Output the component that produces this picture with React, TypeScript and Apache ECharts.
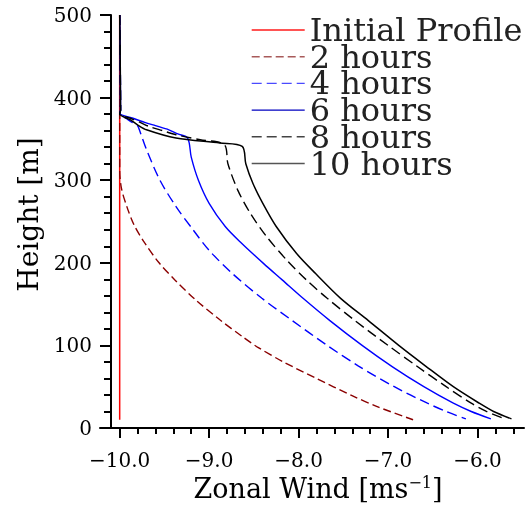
import React, { useEffect, useRef } from "react";
import * as echarts from "echarts";

const FONT = "DejaVu Serif";

const seriesNames = ["Initial Profile", "2 hours", "4 hours", "6 hours", "8 hours", "10 hours"];

const initHeights = [10, 500];
const initWinds = [-10, -10];

const h2Heights = [500, 385, 330, 312, 290, 268, 246, 224, 200, 179, 155, 131, 110, 98, 80, 60, 40, 25, 10];
const h2Winds = [-10, -10, -10, -10, -9.98, -9.92, -9.84, -9.72, -9.56, -9.38, -9.15, -8.88, -8.62, -8.46, -8.17, -7.8, -7.42, -7.1, -6.72];

const h4Heights = [500, 385, 380, 375, 370, 366, 361, 337, 300, 268, 240, 215, 187, 157, 130, 100, 75, 50, 30, 20, 11];
const h4Winds = [-10, -9.99, -10, -9.93, -9.86, -9.8, -9.78, -9.7, -9.55, -9.37, -9.18, -9.0, -8.74, -8.41, -8.07, -7.68, -7.33, -6.93, -6.56, -6.35, -6.13];

const h6Heights = [500, 385, 381, 375, 370, 366, 361, 356, 351, 328, 300, 272, 244, 224, 199, 179, 157, 130, 100, 74, 50, 30, 20, 11];
const h6Winds = [-10, -9.99, -10, -9.85, -9.72, -9.6, -9.45, -9.35, -9.24, -9.2, -9.12, -9.0, -8.82, -8.64, -8.39, -8.18, -7.95, -7.65, -7.29, -6.95, -6.6, -6.27, -6.07, -5.85];

const h8Heights = [500, 385, 380, 375, 370, 365, 360, 355, 349, 343, 320, 288, 260, 232, 203, 179, 157, 130, 100, 75, 50, 30, 20, 11];
const h8Winds = [-10, -9.99, -10, -9.88, -9.77, -9.67, -9.52, -9.37, -9.1, -8.83, -8.79, -8.68, -8.54, -8.36, -8.13, -7.91, -7.68, -7.37, -7.0, -6.68, -6.35, -6.07, -5.9, -5.69];

const h10Heights = [500, 385, 380, 373, 367, 361, 351, 345, 341, 320, 296, 272, 244, 211, 187, 157, 130, 100, 75, 50, 30, 20, 11];
const h10Winds = [-10, -9.99, -10, -9.88, -9.8, -9.7, -9.37, -8.88, -8.63, -8.59, -8.51, -8.4, -8.25, -8.02, -7.81, -7.53, -7.22, -6.88, -6.58, -6.27, -5.98, -5.82, -5.62];

const xMajorTicks = [-10, -9, -8, -7, -6];
const xMinorTicks = [-10, -9.8, -9.6, -9.4, -9.2, -9, -8.8, -8.6, -8.4, -8.2, -8, -7.8, -7.6, -7.4, -7.2, -7, -6.8, -6.6, -6.4, -6.2, -6, -5.8, -5.6];

const pairs = (w: number[], h: number[]) => w.map((v, i) => [v, h[i]]);

export default function App() {
  const ref = useRef<HTMLDivElement>(null);
  useEffect(() => {
    if (!ref.current) return;
    const chart = echarts.init(ref.current, null, { renderer: "svg" });
    const mk = (name: string, data: number[][], color: string, type: any, width: number, smooth: number) => ({
      name,
      type: "line",
      data,
      symbol: "none",
      smooth,
      xAxisIndex: 0,
      yAxisIndex: 0,
      lineStyle: { color, type, width },
      itemStyle: { color },
    });
    chart.setOption({
      animation: false,
      grid: { left: 100, right: 1, top: 15, bottom: 82 },
      legend: {
        left: 251,
        top: 14,
        orient: "vertical",
        padding: 0,
        itemGap: -5.3,
        itemWidth: 53,
        itemHeight: 14,
        itemStyle: { opacity: 0 },
        textStyle: { fontFamily: FONT, fontSize: 32, lineHeight: 31, color: "#222" },
        data: [
          { name: seriesNames[0], lineStyle: { color: "#ff1a1a", width: 1.4 } },
          { name: seriesNames[1], lineStyle: { color: "#a85a5a", width: 1.4 } },
          { name: seriesNames[2], lineStyle: { color: "#4a4aff", width: 1.4 } },
          { name: seriesNames[3], lineStyle: { color: "#0000c0", width: 1.4 } },
          { name: seriesNames[4], lineStyle: { color: "#444444", width: 1.4 } },
          { name: seriesNames[5], lineStyle: { color: "#555555", width: 1.4 } },
        ],
      },
      xAxis: [
        {
          type: "value",
          min: -10.22,
          max: -5.48,
          position: "bottom",
          axisLine: { show: true, onZero: false, lineStyle: { color: "#000", width: 2 } },
          axisTick: { show: true, customValues: xMajorTicks, length: 10, lineStyle: { color: "#000", width: 2 } },
          axisLabel: {
            customValues: xMajorTicks,
            formatter: (v: number) => v.toFixed(1).replace("-", "\u2212"),
            fontFamily: FONT,
            fontSize: 20,
            color: "#000",
            margin: 22,
          },
          splitLine: { show: false },
          name: "Zonal Wind [ms{sup|\u22121}]",
          nameLocation: "middle",
          nameGap: 46,
          nameTextStyle: {
            fontFamily: FONT,
            fontSize: 27,
            color: "#000",
            padding: [0, 0, 0, 12],
            rich: { sup: { fontFamily: FONT, fontSize: 16, verticalAlign: "top", color: "#000" } },
          },
        },
        {
          type: "value",
          min: -10.22,
          max: -5.48,
          position: "bottom",
          axisLine: { show: false, onZero: false },
          axisTick: { show: true, customValues: xMinorTicks, length: 6, lineStyle: { color: "#000", width: 2 } },
          axisLabel: { show: false },
          splitLine: { show: false },
        },
      ],
      yAxis: {
        type: "value",
        min: 0,
        max: 500,
        interval: 100,
        offset: -11,
        axisLine: { show: true, onZero: false, lineStyle: { color: "#000", width: 2 } },
        axisTick: { show: true, length: 11, lineStyle: { color: "#000", width: 2 } },
        minorTick: { show: true, splitNumber: 5, length: 7, lineStyle: { color: "#000", width: 2 } },
        axisLabel: { fontFamily: FONT, fontSize: 20, color: "#000", margin: 19 },
        splitLine: { show: false },
        name: "Height [m]",
        nameLocation: "middle",
        nameRotate: 90,
        nameGap: 59,
        nameTextStyle: { fontFamily: FONT, fontSize: 28, color: "#000", padding: [0, 0, 0, 14] },
      },
      series: [
        mk(seriesNames[0], pairs(initWinds, initHeights), "#ff0000", "solid", 1.5, 0),
        mk(seriesNames[1], pairs(h2Winds, h2Heights), "#8b0000", [8, 4], 1.4, 0.3),
        mk(seriesNames[2], pairs(h4Winds, h4Heights), "#0000ff", [10, 5], 1.4, 0.3),
        mk(seriesNames[3], pairs(h6Winds, h6Heights), "#0000ff", "solid", 1.4, 0.3),
        mk(seriesNames[4], pairs(h8Winds, h8Heights), "#000000", [10, 5], 1.4, 0.3),
        mk(seriesNames[5], pairs(h10Winds, h10Heights), "#000000", "solid", 1.5, 0.3),
      ],
    });
    return () => chart.dispose();
  }, []);
  return <div ref={ref} style={{ position: "fixed", left: 0, top: 0, width: 525, height: 510 }} />;
}
